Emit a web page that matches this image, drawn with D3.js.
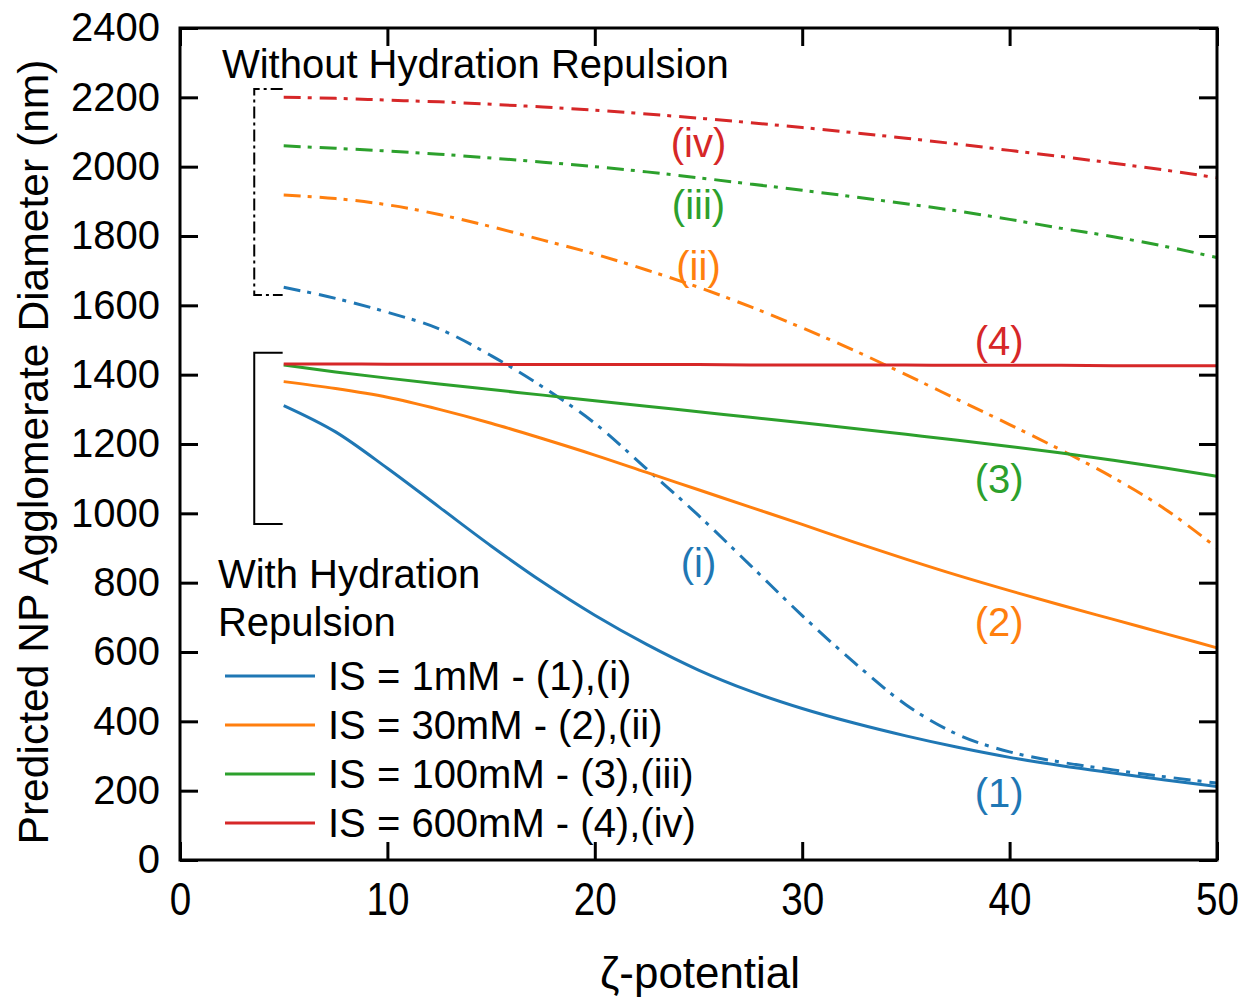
<!DOCTYPE html>
<html>
<head>
<meta charset="utf-8">
<script src="https://cdn.jsdelivr.net/npm/d3@7/dist/d3.min.js"></script>
<style>
  body { margin: 0; background: #fff; }
  text { font-family: "Liberation Sans", Arial, sans-serif; }
</style>
</head>
<body>
<svg id="chart" width="1254" height="1001"></svg>
<script>
// zeta potential samples
var zeta = [5, 7.5, 10, 12.5, 15, 17.5, 20, 22.5, 25, 27.5, 30, 32.5, 35, 37.5, 40, 42.5, 45, 47.5, 50];

// with hydration repulsion (solid)
var with1 = [1311, 1235, 1130, 1018, 906, 801, 706, 622, 548, 487, 437, 395, 358, 325, 296, 272, 251, 231, 212];
var with2 = [1380, 1360, 1335, 1300, 1260, 1215, 1168, 1118, 1068, 1018, 968, 917, 868, 821, 777, 735, 694, 653, 612];
var with3 = [1428, 1408, 1390, 1373, 1357, 1341, 1325, 1309, 1293, 1277, 1261, 1245, 1228, 1211, 1193, 1174, 1153, 1131, 1107];
var with4 = [1431, 1431, 1430, 1430, 1430, 1429, 1429, 1429, 1429, 1428, 1428, 1428, 1428, 1427, 1427, 1427, 1426, 1426, 1426];

// without hydration repulsion (dash-dot)
var without1 = [1652, 1620, 1580, 1532, 1455, 1364, 1260, 1128, 994, 850, 705, 570, 448, 362, 312, 282, 260, 240, 222];
var without2 = [1918, 1908, 1890, 1862, 1827, 1788, 1748, 1702, 1652, 1596, 1535, 1470, 1400, 1328, 1256, 1182, 1103, 1012, 900];
var without3 = [2060, 2053, 2045, 2036, 2025, 2013, 2000, 1985, 1968, 1950, 1932, 1913, 1893, 1872, 1848, 1822, 1798, 1770, 1738];
var without4 = [2200, 2197, 2192, 2187, 2180, 2172, 2163, 2152, 2140, 2127, 2113, 2098, 2082, 2065, 2047, 2029, 2010, 1990, 1968];

var colors = ["#1f77b4", "#ff7f0e", "#2ca02c", "#d62728"];
var legendLabels = ["IS = 1mM - (1),(i)", "IS = 30mM - (2),(ii)", "IS = 100mM - (3),(iii)", "IS = 600mM - (4),(iv)"];

var xTicks = [0, 10, 20, 30, 40, 50];
var yTicks = d3.range(0, 2401, 200);

// curve labels [text, zeta, diameter, series]
var curveLabels = [
    ["(iv)", 25, 2068, 3], ["(iii)", 25, 1889, 2], ["(ii)", 25, 1713, 1], ["(i)", 25, 857, 0],
    ["(4)", 39.5, 1497, 3], ["(3)", 39.5, 1099, 2], ["(2)", 39.5, 686, 1], ["(1)", 39.5, 193, 0]
];

var svg = d3.select("#chart"),
    margin = {top: 28, left: 180, bottom: 141, right: 37},
    width = +svg.attr("width") - margin.left - margin.right,
    height = +svg.attr("height") - margin.top - margin.bottom;

var x = d3.scaleLinear().domain([0, 50]).range([margin.left, margin.left + width]);
var y = d3.scaleLinear().domain([0, 2400]).range([margin.top + height, margin.top]);

var line = d3.line()
    .x(d => x(d[0]))
    .y(d => y(d[1]))
    .curve(d3.curveMonotoneX);

function pts(vals) { return zeta.map((z, i) => [z, vals[i]]); }

var solid = [with1, with2, with3, with4];
var dashed = [without1, without2, without3, without4];

dashed.forEach(function(s, i) {
    svg.append("path")
        .attr("d", line(pts(s)))
        .attr("fill", "none")
        .attr("stroke", colors[i])
        .attr("stroke-width", 3)
        .attr("stroke-dasharray", "17,7,4,8");
});
solid.forEach(function(s, i) {
    svg.append("path")
        .attr("d", line(pts(s)))
        .attr("fill", "none")
        .attr("stroke", colors[i])
        .attr("stroke-width", 3);
});

// brackets
var bx0 = 3.58, bx1 = 4.95;
svg.append("path")
    .attr("d", `M${x(bx1)},${y(2224)}H${x(bx0)}V${y(1630)}H${x(bx1)}`)
    .attr("fill", "none").attr("stroke", "#000").attr("stroke-width", 2)
    .attr("stroke-dasharray", "12,4,3,4");
svg.append("path")
    .attr("d", `M${x(bx1)},${y(1463)}H${x(bx0)}V${y(969)}H${x(bx1)}`)
    .attr("fill", "none").attr("stroke", "#000").attr("stroke-width", 2);

// axes with inward ticks
var gx = svg.append("g")
    .attr("transform", `translate(0,${margin.top + height})`)
    .call(d3.axisBottom(x).tickValues(xTicks).tickSizeInner(-18).tickSizeOuter(0).tickPadding(22).tickFormat(d3.format("d")));
gx.selectAll("text")
    .style("font-size", "46px")
    .attr("transform", "scale(0.84,1)")
    .attr("fill", "#000");

var gy = svg.append("g")
    .attr("transform", `translate(${margin.left},0)`)
    .call(d3.axisLeft(y).tickValues(yTicks).tickSizeInner(-18).tickSizeOuter(0).tickPadding(20).tickFormat(d3.format("d")));
gy.selectAll("text").style("font-size", "40px").attr("fill", "#000");

svg.append("g")
    .attr("transform", `translate(0,${margin.top})`)
    .call(d3.axisTop(x).tickValues(xTicks).tickSizeInner(-18).tickSizeOuter(0).tickFormat(""));
svg.append("g")
    .attr("transform", `translate(${margin.left + width},0)`)
    .call(d3.axisRight(y).tickValues(yTicks).tickSizeInner(-18).tickSizeOuter(0).tickFormat(""));

svg.selectAll(".tick line").attr("stroke", "#000").attr("stroke-width", 3);
svg.selectAll(".domain").remove();

svg.append("rect")
    .attr("x", margin.left).attr("y", margin.top)
    .attr("width", width).attr("height", height)
    .attr("fill", "none").attr("stroke", "#000").attr("stroke-width", 3);

// curve labels
svg.selectAll(".curve-label")
    .data(curveLabels)
    .enter().append("text")
    .attr("class", "curve-label")
    .attr("x", d => x(d[1]))
    .attr("y", d => y(d[2]))
    .attr("dy", "0.35em")
    .attr("text-anchor", "middle")
    .style("font-size", "40px")
    .attr("fill", d => colors[d[3]])
    .text(d => d[0]);

// annotations
svg.append("text").attr("x", x(2.02)).attr("y", y(2256))
    .style("font-size", "40px").text("Without Hydration Repulsion");
svg.append("text").attr("x", x(1.83)).attr("y", y(785))
    .style("font-size", "40px").text("With Hydration");
svg.append("text").attr("x", x(1.83)).attr("y", y(646))
    .style("font-size", "40px").text("Repulsion");

// legend
var legend = svg.selectAll(".legend")
    .data(legendLabels)
    .enter().append("g")
    .attr("class", "legend")
    .attr("transform", (d, i) => `translate(225,${676 + i * 49})`);
legend.append("line")
    .attr("x1", 0).attr("x2", 90)
    .attr("stroke", (d, i) => colors[i]).attr("stroke-width", 3);
legend.append("text")
    .attr("x", 103).attr("dy", "0.35em")
    .style("font-size", "40px")
    .text(d => d);

// axis titles
svg.append("text")
    .attr("x", 700).attr("y", 988)
    .attr("text-anchor", "middle")
    .attr("textLength", 200).attr("lengthAdjust", "spacingAndGlyphs")
    .style("font-size", "44px")
    .text("ζ-potential");

svg.append("text")
    .attr("transform", "translate(48,452) rotate(-90)")
    .attr("text-anchor", "middle")
    .attr("textLength", 785).attr("lengthAdjust", "spacingAndGlyphs")
    .style("font-size", "42px")
    .text("Predicted NP Agglomerate Diameter (nm)");
</script>
</body>
</html>
